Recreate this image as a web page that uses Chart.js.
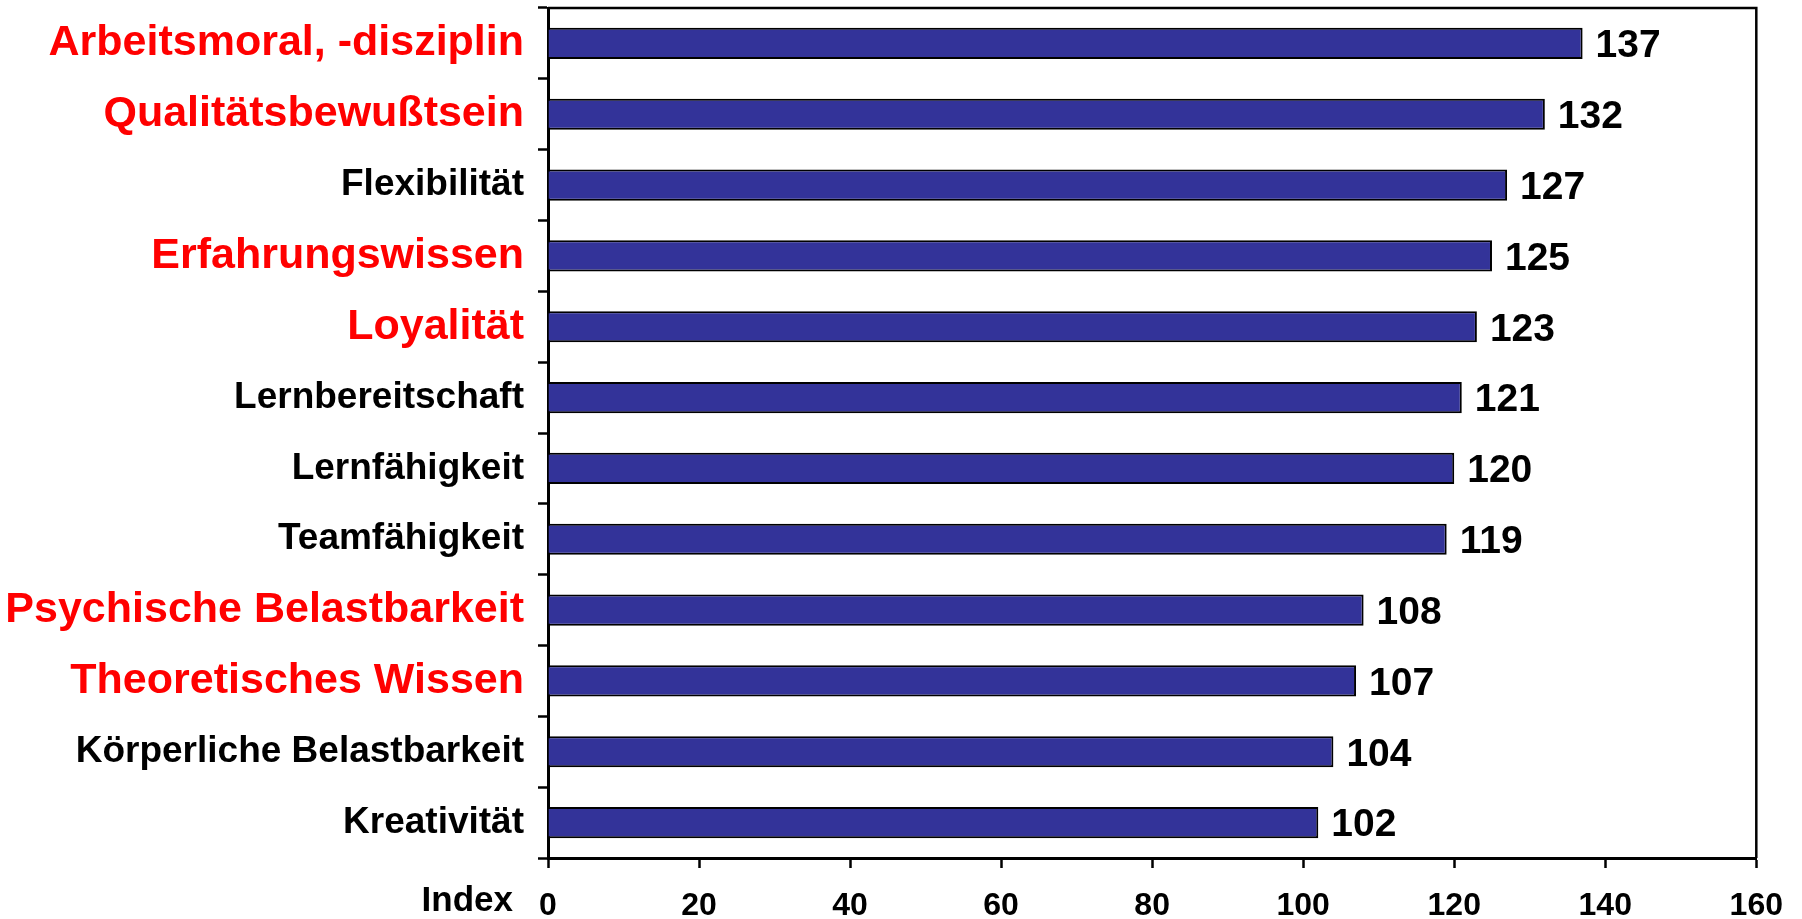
<!DOCTYPE html>
<html>
<head>
<meta charset="utf-8">
<script src="https://cdn.jsdelivr.net/npm/chart.js@4"></script>
<style>
  html, body { margin: 0; padding: 0; background: #fff; }
  #wrap { width: 1802px; height: 919px; position: relative; }
</style>
</head>
<body>
<div id="wrap"><canvas id="myChart"></canvas></div>
<script>
// chart data
const categories = [
  "Arbeitsmoral, -disziplin",
  "Qualitätsbewußtsein",
  "Flexibilität",
  "Erfahrungswissen",
  "Loyalität",
  "Lernbereitschaft",
  "Lernfähigkeit",
  "Teamfähigkeit",
  "Psychische Belastbarkeit",
  "Theoretisches Wissen",
  "Körperliche Belastbarkeit",
  "Kreativität",
];
const indexValues = [137, 132, 127, 125, 123, 121, 120, 119, 108, 107, 104, 102];
// labels printed big and red in the original
const highlighted = [true, true, false, true, true, false, false, false, true, true, false, false];
const axisMin = 0;
const axisMax = 160;
const axisStep = 20;
const axisName = "Index";

const fontFamily = '"Liberation Sans", Arial, sans-serif';
Chart.defaults.font.family = fontFamily;

// top + right frame lines, value labels and the "Index" caption
const extrasPlugin = {
  id: "extras",
  afterDatasetsDraw(chart) {
    const ctx = chart.ctx;
    const area = chart.chartArea;
    ctx.save();
    ctx.strokeStyle = "#000";
    ctx.lineWidth = 2.5;
    ctx.beginPath();
    ctx.moveTo(area.left, area.top);
    ctx.lineTo(area.right, area.top);
    ctx.lineTo(area.right, area.bottom);
    ctx.stroke();

    ctx.fillStyle = "#000";
    ctx.font = "bold 39px " + fontFamily;
    ctx.textAlign = "left";
    ctx.textBaseline = "middle";
    chart.getDatasetMeta(0).data.forEach((bar, i) => {
      ctx.fillText(String(indexValues[i]), bar.x + 13, bar.y + 3);
    });

    ctx.font = "bold 35px " + fontFamily;
    ctx.textAlign = "right";
    ctx.fillText(axisName, area.left - 35, 901);
    ctx.restore();
  },
};

const ctx = document.getElementById("myChart").getContext("2d");
const myChart = new Chart(ctx, {
  type: "bar",
  data: {
    labels: categories,
    datasets: [
      {
        data: indexValues,
        backgroundColor: "#333399",
        borderColor: "#000",
        borderWidth: 2,
        barPercentage: 0.44,
        categoryPercentage: 1,
      },
    ],
  },
  options: {
    indexAxis: "y",
    responsive: true,
    maintainAspectRatio: false,
    devicePixelRatio: 1,
    animation: false,
    layout: { padding: { top: 8, right: 44, left: 0, bottom: 0 } },
    plugins: {
      legend: { display: false },
      tooltip: { enabled: false },
    },
    scales: {
      y: {
        offset: true,
        grid: {
          display: true,
          drawOnChartArea: false,
          drawTicks: true,
          tickLength: 10,
          tickWidth: 2.5,
          tickColor: "#000",
          offset: true,
        },
        border: { display: true, color: "#000", width: 3 },
        ticks: {
          padding: 14,
          autoSkip: false,
          color: (c) => (highlighted[c.index] ? "#ff0000" : "#000"),
          font: (c) =>
            highlighted[c.index]
              ? { size: 43, weight: "bold" }
              : { size: 37, weight: "bold" },
        },
        afterFit: (scale) => {
          scale.width = 548;
          scale.paddingTop = 0;
          scale.paddingBottom = 0;
        },
      },
      x: {
        min: axisMin,
        max: axisMax,
        grid: {
          display: true,
          drawOnChartArea: false,
          drawTicks: true,
          tickLength: 10,
          tickWidth: 2.5,
          tickColor: "#000",
        },
        border: { display: true, color: "#000", width: 3 },
        ticks: {
          stepSize: axisStep,
          color: "#000",
          padding: 19,
          maxRotation: 0,
          font: { size: 32, weight: "bold" },
        },
        afterFit: (scale) => {
          scale.height = 61;
        },
      },
    },
  },
  plugins: [extrasPlugin],
});
</script>
</body>
</html>
